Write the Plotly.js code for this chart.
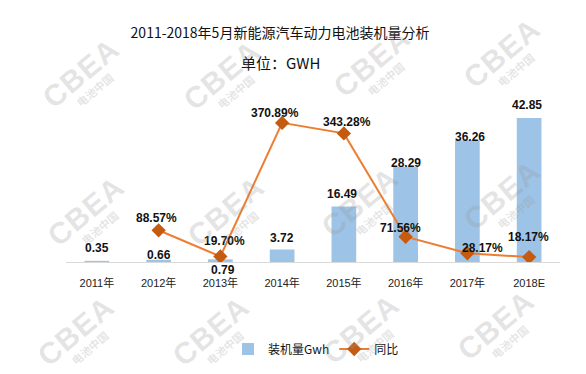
<!DOCTYPE html>
<html>
<head>
<meta charset="utf-8">
<script src="https://cdn.plot.ly/plotly-3.0.1.min.js"></script>
<style>
html,body{margin:0;padding:0;background:#fff;}
#wrap{position:relative;width:586px;height:374px;overflow:hidden;}
#chart{width:586px;height:374px;}
.wm{position:absolute;transform:translate(-50%,-50%) rotate(-40deg);text-align:center;pointer-events:none;
  color:rgba(150,150,150,0.25);font-family:'Liberation Sans',Arial,sans-serif;font-weight:bold;line-height:1;white-space:nowrap;}
.wm .big{font-size:30px;letter-spacing:1px;display:block;}
.wm .small{font-family:'Noto Sans CJK SC',sans-serif;font-size:11px;display:block;margin-top:1px;}
</style>
</head>
<body>
<div id="wrap"><div id="chart"></div></div>
<script>
// ---- data ----
const categories = ['2011年', '2012年', '2013年', '2014年', '2015年', '2016年', '2017年', '2018E'];
const installedGwh = [0.35, 0.66, 0.79, 3.72, 16.49, 28.29, 36.26, 42.85];
const yoyPercent = [null, 88.57, 19.70, 370.89, 343.28, 71.56, 28.17, 18.17];
const barSeriesName = '装机量Gwh';
const lineSeriesName = '同比';
const titleText = '2011-2018年5月新能源汽车动力电池装机量分析';
const subtitleText = '单位：GWH';
const watermarkMain = 'CBEA';
const watermarkSub = '电池中国';

// ---- layout geometry / styles ----
const W = 586, H = 374;
const M = {l: 66, r: 26, t: 94, b: 111};
const PW = W - M.l - M.r, PH = H - M.t - M.b;
const px2x = p => (p - M.l) / PW;
const py2y = p => (H - M.b - p) / PH;

// label offsets in pixels (style only)
const barLabelYShift = [13, 5, -11, 12, 13, 4, 3, 13];
const barLabelXShift = [0, 0, 3, 0, -2, 0, 3, -2];
const yoyLabelYShift = [0, 12, 15, 10, 11, 9, 5, 20];
const yoyLabelXShift = [0, -2, 4, -7, 3, -5, 15, -1];
const labelFont = {family: 'Liberation Sans, Arial, sans-serif', size: 12, color: '#111'};

const traces = [
  {
    type: 'bar', name: barSeriesName, x: categories, y: installedGwh,
    marker: {color: '#9DC3E6'}, width: 0.4, yaxis: 'y', hoverinfo: 'skip'
  },
  {
    type: 'scatter', mode: 'lines+markers', name: lineSeriesName, x: categories, y: yoyPercent,
    yaxis: 'y2', line: {color: '#ED7D31', width: 2},
    marker: {symbol: 'diamond', size: 11, color: '#C55A11'}, connectgaps: false, hoverinfo: 'skip'
  }
];

const annotations = [];
categories.forEach((c, i) => {
  annotations.push({
    xref: 'x', yref: 'y', x: c, y: installedGwh[i], showarrow: false,
    text: '<b>' + installedGwh[i].toFixed(2) + '</b>', font: labelFont,
    xanchor: 'center', yanchor: 'middle', yshift: barLabelYShift[i], xshift: barLabelXShift[i]
  });
  if (yoyPercent[i] != null) {
    annotations.push({
      xref: 'x', yref: 'y2', x: c, y: yoyPercent[i], showarrow: false,
      text: '<b>' + yoyPercent[i].toFixed(2) + '%</b>', font: labelFont,
      xanchor: 'center', yanchor: 'middle', yshift: yoyLabelYShift[i], xshift: yoyLabelXShift[i]
    });
  }
});
annotations.push({
  xref: 'paper', yref: 'paper', x: px2x(280), y: py2y(62), showarrow: false,
  text: subtitleText, xanchor: 'center', yanchor: 'middle',
  font: {family: 'Noto Sans CJK SC, sans-serif', size: 15, color: '#111'}
});

const layout = {
  width: W, height: H,
  margin: M,
  paper_bgcolor: '#fff', plot_bgcolor: 'rgba(0,0,0,0)',
  title: {
    text: titleText, xref: 'container', yref: 'container', x: 280 / W, y: 1 - 33 / H,
    xanchor: 'center', yanchor: 'middle',
    font: {family: 'Noto Sans CJK SC, sans-serif', size: 14, color: '#111'}
  },
  xaxis: {
    type: 'category', range: [-0.5, 7.5], showgrid: false, zeroline: false,
    showline: true, linecolor: '#d9d9d9', linewidth: 1,
    ticks: 'outside', ticklen: 11, tickcolor: 'rgba(0,0,0,0)',
    tickfont: {family: 'Liberation Sans, Arial, Noto Sans CJK SC, sans-serif', size: 11, color: '#222'},
    fixedrange: true
  },
  yaxis: {range: [0, 50], visible: false, showgrid: false, zeroline: false, fixedrange: true},
  yaxis2: {range: [5.2, 446.8], overlaying: 'y', side: 'right', visible: false, showgrid: false, zeroline: false, fixedrange: true},
  showlegend: true,
  legend: {
    orientation: 'h', x: px2x(316), xanchor: 'center', y: py2y(349), yanchor: 'middle',
    font: {family: 'Noto Sans CJK SC, sans-serif', size: 12, color: '#111'},
    bgcolor: 'rgba(0,0,0,0)', itemwidth: 30
  },
  annotations: annotations
};

Plotly.newPlot('chart', traces, layout, {displayModeBar: false, staticPlot: true});

// decorative watermark overlay (pixel centres)
const wmPos = [[85,78],[226,80],[376,67],[506,58],[90,216],[230,216],[364,207],[506,200],[80,336],[215,336],[365,334],[500,330]];
const wrap = document.getElementById('wrap');
wmPos.forEach(([x, y]) => {
  const d = document.createElement('div');
  d.className = 'wm';
  d.style.left = x + 'px';
  d.style.top = y + 'px';
  d.innerHTML = '<span class="big">' + watermarkMain + '</span><span class="small">' + watermarkSub + '</span>';
  wrap.appendChild(d);
});
</script>
</body>
</html>
